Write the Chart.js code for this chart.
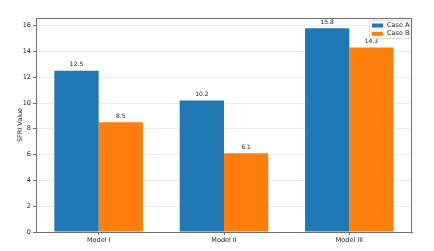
<!DOCTYPE html>
<html>
<head>
<meta charset="utf-8">
<script src="https://cdn.jsdelivr.net/npm/chart.js@4/dist/chart.umd.min.js"></script>
<style>
    html, body { margin: 0; padding: 0; background: #fff; }
    #wrap { width: 434px; height: 251px; }
</style>
</head>
<body>
<div id="wrap"><canvas id="sfriChart"></canvas></div>
<script>
// Data
const models = ['Model I', 'Model II', 'Model III'];
const caseA = [12.5, 10.2, 15.8];
const caseB = [8.5, 6.1, 14.3];
const yTicks = [0, 2, 4, 6, 8, 10, 12, 14, 16];

const FONT = "'DejaVu Sans', sans-serif";
const SPINE = '#707070';

// Frame, value labels, y label and legend drawn matplotlib-style
const mplExtras = {
    id: 'mplExtras',
    afterDatasetsDraw(chart) {
        const ctx = chart.ctx;
        const area = chart.chartArea;
        ctx.save();

        // value labels above bars
        ctx.font = '6px ' + FONT;
        ctx.fillStyle = '#222';
        ctx.textAlign = 'center';
        ctx.textBaseline = 'bottom';
        chart.data.datasets.forEach((ds, i) => {
            chart.getDatasetMeta(i).data.forEach((bar, j) => {
                ctx.fillText(ds.data[j].toFixed(1), bar.x, bar.y - 3);
            });
        });

        // top/right spines
        ctx.strokeStyle = SPINE;
        ctx.lineWidth = 1;
        ctx.strokeRect(area.left + 0.5, area.top + 0.5, area.right - area.left - 1, area.bottom - area.top);

        // y label
        ctx.save();
        ctx.translate(20, (area.top + area.bottom) / 2);
        ctx.rotate(-Math.PI / 2);
        ctx.font = '6.5px ' + FONT;
        ctx.fillStyle = '#222';
        ctx.textAlign = 'center';
        ctx.textBaseline = 'middle';
        ctx.fillText('SFRI Value', 0, 0);
        ctx.restore();

        // legend box top right
        const lx = area.right - 43, ly = area.top + 2, lw = 40, lh = 18;
        ctx.fillStyle = 'rgba(255,255,255,0.85)';
        ctx.strokeStyle = '#dddddd';
        ctx.fillRect(lx, ly, lw, lh);
        ctx.strokeRect(lx + 0.5, ly + 0.5, lw, lh);
        ctx.font = '6.5px ' + FONT;
        ctx.textAlign = 'left';
        ctx.textBaseline = 'middle';
        chart.data.datasets.forEach((ds, i) => {
            const cy = ly + 5.5 + i * 8.3;
            ctx.fillStyle = ds.backgroundColor;
            ctx.fillRect(lx + 3, cy - 2, 11, 4);
            ctx.fillStyle = '#222';
            ctx.fillText(ds.label, lx + 18, cy);
        });

        ctx.restore();
    }
};

new Chart(document.getElementById('sfriChart'), {
    type: 'bar',
    data: {
        labels: models,
        datasets: [
            { label: 'Case A', data: caseA, backgroundColor: '#1f77b4' },
            { label: 'Case B', data: caseB, backgroundColor: '#ff7f0e' }
        ]
    },
    options: {
        responsive: true,
        maintainAspectRatio: false,
        animation: false,
        devicePixelRatio: 1,
        categoryPercentage: 0.707,
        barPercentage: 1,
        layout: { padding: { top: 18, right: 22, left: 0, bottom: 0 } },
        plugins: {
            legend: { display: false },
            tooltip: { enabled: false }
        },
        scales: {
            x: {
                grid: { offset: false, color: 'transparent', tickColor: SPINE, tickLength: 3 },
                border: { color: SPINE },
                ticks: { color: '#222', font: { family: FONT, size: 6.5 }, padding: 1 },
                afterFit: (scale) => { scale.height = 19; }
            },
            y: {
                min: 0,
                max: 16.59,
                afterBuildTicks: (scale) => { scale.ticks = yTicks.map(v => ({ value: v })); },
                grid: { color: '#ececec', tickColor: SPINE, tickLength: 3 },
                border: { color: SPINE },
                ticks: { color: '#222', font: { family: FONT, size: 6.5 }, padding: 2 },
                afterFit: (scale) => { scale.width = 36; }
            }
        }
    },
    plugins: [mplExtras]
});
</script>
</body>
</html>
